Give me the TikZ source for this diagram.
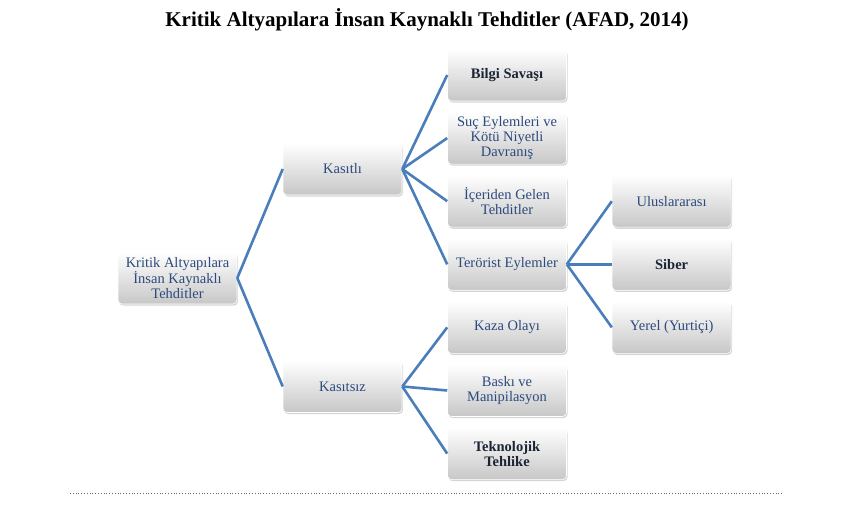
\documentclass[tikz,border=0pt]{standalone}
\usepackage{fontspec}
\setmainfont{Liberation Serif}
\usetikzlibrary{positioning, shadows}
\definecolor{afadBlue}{HTML}{4A7EBB}
\definecolor{afadText}{HTML}{2C4A7C}
\definecolor{afadDark}{HTML}{1A2433}

\begin{document}
\begin{tikzpicture}[x=1pt, y=1pt,
    box/.style={rounded corners=4pt, minimum width=119pt, minimum height=52pt,
      inner sep=2pt, align=center, font=\fontsize{14.5}{15}\selectfont, text=afadText,
      top color=white, bottom color=black!22, draw=white, line width=0.6pt,
      drop shadow={shadow xshift=1pt, shadow yshift=-1.6pt, opacity=0.3, fill=black!55}},
    hbox/.style={box, text=afadDark, font=\fontsize{14.5}{15}\selectfont\bfseries},
    link/.style={afadBlue, line width=2.6pt},
    node distance=10.5pt and 45pt]
    \useasboundingbox (0,0) rectangle (858,506);
    \node[font=\fontsize{21}{21}\selectfont\bfseries] (title) at (427,486)
      {Kritik Altyapılara İnsan Kaynaklı Tehditler (AFAD, 2014)};
    \node[box] (kok) at (177.5,228) {Kritik Altyapılara\\İnsan Kaynaklı\\Tehditler};
    \node[box] (kas) at (342.5,337) {Kasıtlı};
    \node[box] (kss) at (342.5,119.5) {Kasıtsız};
    \node[hbox] (bil) at (507,431) {Bilgi Savaşı};
    \node[box, below=of bil] (suc) {Suç Eylemleri ve\\Kötü Niyetli\\Davranış};
    \node[box, below=of suc] (ice) {İçeriden Gelen\\Tehditler};
    \node[box, below=of ice] (ter) {Terörist Eylemler};
    \node[box, below=of ter] (kaz) {Kaza Olayı};
    \node[box, below=of kaz] (bas) {Baskı ve\\Manipilasyon};
    \node[hbox, below=of bas] (tek) {Teknolojik\\Tehlike};
    \node[box, right=of ice] (ulu) {Uluslararası};
    \node[hbox, right=of ter] (sib) {Siber};
    \node[box, right=of kaz] (yer) {Yerel (Yurtiçi)};
    \begin{scope}[on background layer/.try]
    \foreach \x/\y in {kok/kas,kok/kss,kas/bil,kas/suc,kas/ice,kas/ter,kss/kaz,kss/bas,kss/tek,ter/ulu,ter/sib,ter/yer}
      \draw[link] (\x.east) -- (\y.west);
    \end{scope}
    \coordinate (dl) at (70,13);
    \coordinate (dr) at (782,13);
    \draw[black!60, dotted, line width=0.8pt] (dl) -- (dr);
  \end{tikzpicture}
\end{document}
